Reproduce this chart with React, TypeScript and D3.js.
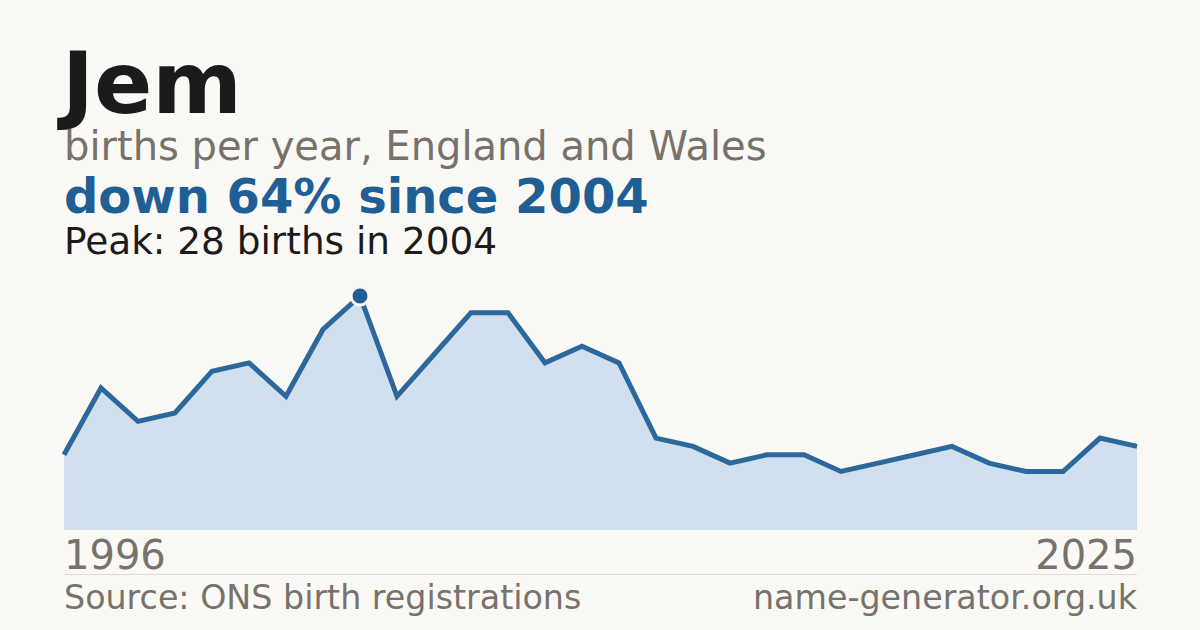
import React from 'react';
import * as d3 from 'd3';

// Годы и количество рождений (чтение с картинки)
const years = [
  1996, 1997, 1998, 1999, 2000, 2001, 2002, 2003, 2004, 2005,
  2006, 2007, 2008, 2009, 2010, 2011, 2012, 2013, 2014, 2015,
  2016, 2017, 2018, 2019, 2020, 2021, 2022, 2023, 2024, 2025,
];
const births = [
  9, 17, 13, 14, 19, 20, 16, 24, 28, 16,
  21, 26, 26, 20, 22, 20, 11, 10, 8, 9,
  9, 7, 8, 9, 10, 8, 7, 7, 11, 10,
];

const title = 'Jem';
const subtitle = 'births per year, England and Wales';
const headline = 'down 64% since 2004';
const peakNote = 'Peak: 28 births in 2004';
const source = 'Source: ONS birth registrations';
const site = 'name-generator.org.uk';

const W = 1200;
const H = 630;
const font = '"DejaVu Sans", Verdana, sans-serif';

const App: React.FC = () => {
  const data = years.map((y, i) => ({ year: y, value: births[i] }));

  const x = d3.scaleLinear().domain([years[0], years[years.length - 1]]).range([64, 1137]);
  const y = d3.scaleLinear().domain([0, 28]).range([530, 296]);

  const area = d3.area<typeof data[0]>()
    .x((d) => x(d.year))
    .y0(y(0))
    .y1((d) => y(d.value));

  const line = d3.line<typeof data[0]>()
    .x((d) => x(d.year))
    .y((d) => y(d.value));

  const peak = data.reduce((a, b) => (b.value > a.value ? b : a));

  return (
    <svg
      width={W}
      height={H}
      viewBox={`0 0 ${W} ${H}`}
      style={{ position: 'absolute', left: 0, top: 0, display: 'block' }}
      fontFamily={font}
    >
      <rect width={W} height={H} fill="#faf9f5" />

      <text x={62} y={113} fontSize={86} fontWeight="bold" fill="#1b1b1b">{title}</text>
      <text x={64} y={160} fontSize={40} fill="#77726b">{subtitle}</text>
      <text x={64} y={213} fontSize={48} fontWeight="bold" fill="#1f5f95">{headline}</text>
      <text x={64} y={254} fontSize={37.4} fill="#1b1b1b">{peakNote}</text>

      <path d={area(data) || ''} fill="#d0e0ef" />
      <path
        d={line(data) || ''}
        fill="none"
        stroke="#2d689c"
        strokeWidth={5}
        strokeLinejoin="miter"
      />
      <circle
        cx={x(peak.year)}
        cy={y(peak.value)}
        r={9}
        fill="#1f5f95"
        stroke="#faf9f5"
        strokeWidth={3}
      />

      <text x={64} y={569} fontSize={40} fill="#77726b">{years[0]}</text>
      <text x={1137} y={569} fontSize={40} fill="#77726b" textAnchor="end">
        {years[years.length - 1]}
      </text>

      <line x1={64} x2={1137} y1={574.5} y2={574.5} stroke="#dedbd4" strokeWidth={1} />

      <text x={64} y={609} fontSize={33.3} fill="#77726b">{source}</text>
      <text x={1137} y={609} fontSize={33.3} fill="#77726b" textAnchor="end">{site}</text>
    </svg>
  );
};

export default App;
